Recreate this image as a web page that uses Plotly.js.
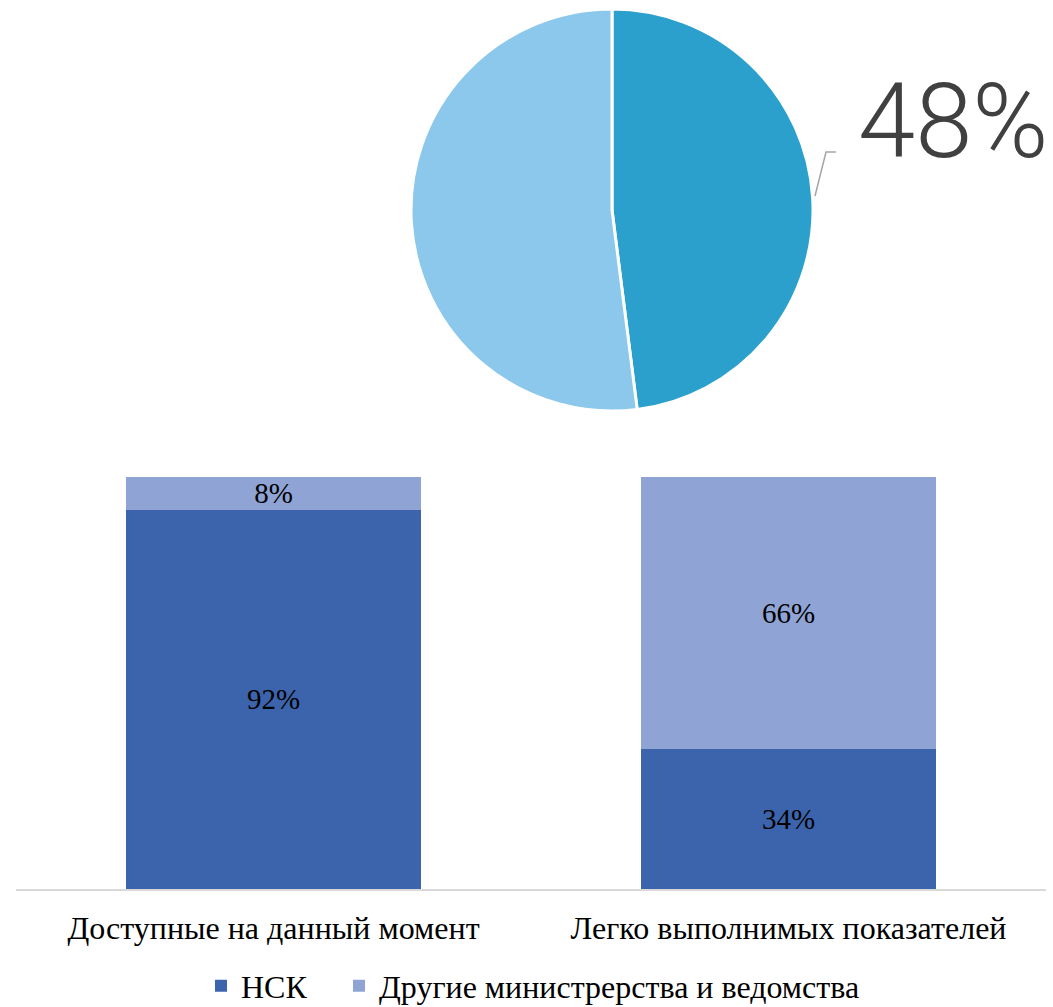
<!DOCTYPE html>
<html>
<head>
<meta charset="utf-8">
<script src="https://cdn.plot.ly/plotly-3.0.1.min.js"></script>
<style>html,body{margin:0;padding:0;background:#fff;}#chart{width:1053px;height:1007px;}</style>
</head>
<body>
<div id="chart"></div>
<script>
// Pie data
const pieLabels = ["Сегмент 1", "Сегмент 2"];
const pieValues = [48, 52];
const pieColors = ["#2CA0CD", "#8BC8EB"];

// Bar data
const categories = ["Доступные на данный момент", "Легко выполнимых показателей"];
const seriesNames = ["НСК", "Другие министрерства и ведомства"];
const nskValues = [92, 34];
const otherValues = [8, 66];
const barColors = ["#3C64AD", "#8FA4D5"];

const W = 1053, H = 1007;
const ML = 16, MR = 7;
const PW = W - ML - MR;
const fx = px => (px - ML) / PW;
const fy = py => 1 - py / H;
const cx = px => px / W;
const serif = "Liberation Serif, Times New Roman, serif";

const pie = {
  type: "pie",
  labels: pieLabels,
  values: pieValues,
  sort: false,
  direction: "clockwise",
  rotation: 0,
  textinfo: "none",
  hoverinfo: "label+percent",
  marker: {colors: pieColors, line: {color: "#ffffff", width: 3}},
  domain: {x: [fx(411), fx(813)], y: [fy(411), fy(9)]},
  showlegend: false
};

const bar1 = {
  type: "bar", name: seriesNames[0], x: categories, y: nskValues,
  marker: {color: barColors[0]},
  text: nskValues.map(v => v + "%"), textposition: "inside", insidetextanchor: "middle",
  constraintext: "none",
  textfont: {family: serif, size: 29, color: "#000000"},
  hoverinfo: "name+y", legend: "legend"
};
const bar2 = {
  type: "bar", name: seriesNames[1], x: categories, y: otherValues,
  marker: {color: barColors[1]},
  text: otherValues.map(v => v + "%"), textposition: "inside", insidetextanchor: "middle",
  constraintext: "none",
  textfont: {family: serif, size: 29, color: "#000000"},
  hoverinfo: "name+y", legend: "legend2"
};

const legendBase = {
  orientation: "h", xref: "container", yref: "container",
  xanchor: "left", yanchor: "middle", y: (H - 986) / H,
  font: {family: serif, size: 32, color: "#000000"},
  itemwidth: 30, bgcolor: "rgba(0,0,0,0)"
};

const layout = {
  width: W, height: H,
  margin: {l: ML, r: MR, t: 0, b: 0, autoexpand: false},
  paper_bgcolor: "#ffffff", plot_bgcolor: "#ffffff",
  barmode: "stack",
  bargap: 0.429,
  showlegend: true,
  legend: Object.assign({}, legendBase, {x: cx(201)}),
  legend2: Object.assign({}, legendBase, {x: cx(339)}),
  xaxis: {
    domain: [0, 1],
    showline: true, linecolor: "#D9D9D9", linewidth: 2,
    showgrid: false, zeroline: false, ticks: "",
    ticklabelstandoff: 10,
    tickfont: {family: serif, size: 32, color: "#000000"},
    automargin: false
  },
  yaxis: {
    domain: [fy(889), fy(477)],
    range: [0, 100], visible: false, showgrid: false, zeroline: false
  },
  annotations: [{
    xref: "paper", yref: "paper",
    x: fx(856), y: fy(122), xanchor: "left", yanchor: "middle",
    text: pieValues[0] + "%", showarrow: false,
    font: {family: "Roboto, sans-serif", size: 103, weight: 300, color: "#404040"}
  }],
  shapes: [{
    type: "path", xref: "paper", yref: "paper",
    path: "M " + fx(815) + "," + fy(196) + " L " + fx(826) + "," + fy(152) + " L " + fx(836) + "," + fy(152),
    line: {color: "#A6A6A6", width: 1.5}
  }]
};

Plotly.newPlot("chart", [pie, bar1, bar2], layout, {displayModeBar: false, staticPlot: true});
</script>
</body>
</html>
